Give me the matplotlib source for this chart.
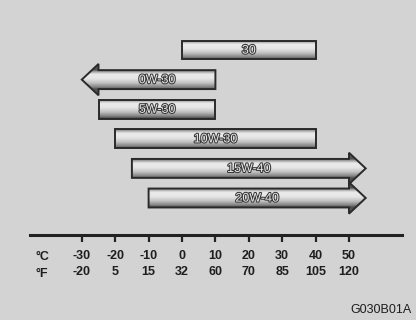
import numpy as np
import matplotlib
matplotlib.use("Agg")
import matplotlib.pyplot as plt
from matplotlib.patches import Polygon
import matplotlib.patheffects as pe

plt.rcParams['font.family'] = ['Liberation Sans', 'DejaVu Sans']

# oil grades and their temperature ranges (degC)
grades = ['30', '0W-30', '5W-30', '10W-30', '15W-40', '20W-40']
low = [0, -30, -25, -20, -15, -10]
high = [40, 10, 10, 40, 55, 55]
open_end = [None, 'left', None, None, 'right', 'right']

celsius = [-30, -20, -10, 0, 10, 20, 30, 40, 50]
fahrenheit = ['-20', '5', '15', '32', '60', '70', '85', '105', '120']

bg = '#d3d3d3'
fig = plt.figure(figsize=(4.16, 3.2), dpi=100, facecolor=bg)
ax = fig.add_axes([30 / 416, 1 - 235 / 320, 372 / 416, 235 / 320])
ax.set_facecolor('none')

body = 0.32   # half height of a bar
head = 0.53   # half height of an arrow head
head_len = 5

# vertical shading of the tubes
def shade(t):
    return np.interp(t, [-1.7, -1.0, -0.85, -0.55, -0.1, 0.35, 0.8, 1.0, 1.7],
                     [0.45, 0.3, 0.6, 0.92, 0.9, 0.76, 0.5, 0.3, 0.38])

for i, (name, lo, hi, kind) in enumerate(zip(grades, low, high, open_end)):
    y = i
    if kind == 'left':
        b = lo + head_len
        pts = [(lo, y), (b, y - head), (b, y - body), (hi, y - body),
               (hi, y + body), (b, y + body), (b, y + head)]
        xm = (b + hi) / 2
    elif kind == 'right':
        b = hi - head_len
        pts = [(lo, y - body), (b, y - body), (b, y - head), (hi, y),
               (b, y + head), (b, y + body), (lo, y + body)]
        xm = (lo + hi) / 2
    else:
        pts = [(lo, y - body), (hi, y - body), (hi, y + body), (lo, y + body)]
        xm = (lo + hi) / 2
    poly = Polygon(pts, closed=True, facecolor='none', edgecolor='#2a2a2a',
                   linewidth=1.4, zorder=3)
    ax.add_patch(poly)
    tt = np.linspace(-1.7, 1.7, 120)
    img = shade(tt)[:, None]
    im = ax.imshow(img, cmap='gray', vmin=0, vmax=1, aspect='auto',
                   extent=[lo, hi, y + 1.7 * body, y - 1.7 * body],
                   interpolation='bilinear', zorder=2)
    im.set_clip_path(poly)
    ax.text(xm, y + 0.02, name, ha='center', va='center',
            fontsize=9, color='#e6e6e6', zorder=4,
            family=['Liberation Sans Narrow', 'Liberation Sans'],
            path_effects=[pe.withStroke(linewidth=1.5, foreground='#383838')])

ax.set_xlim((30 - 182) / 3.34, (402 - 182) / 3.34)
ax.set_ylim(6.25, -1.69)

for s in ['top', 'left', 'right']:
    ax.spines[s].set_visible(False)
ax.spines['bottom'].set_linewidth(2.2)
ax.spines['bottom'].set_color('#222222')
ax.set_yticks([])
ax.set_xticks(celsius)
ax.set_xticklabels([f'{c}\n{f}' for c, f in zip(celsius, fahrenheit)],
                   fontsize=9, fontweight='bold', color='#1e1e1e', linespacing=1.45)
ax.tick_params(axis='x', direction='out', length=5, width=1.6,
               color='#222222', pad=6)

fig.text(36 / 416, 1 - 257 / 320, '°C', fontsize=9, fontweight='bold',
         color='#1e1e1e', va='center')
fig.text(36 / 416, 1 - 274 / 320, '°F', fontsize=9, fontweight='bold',
         color='#1e1e1e', va='center')
fig.text(412 / 416, 1 - 310 / 320, 'G030B01A', fontsize=9, color='#1e1e1e',
         ha='right', va='center')

fig.savefig('out.png', dpi=100, facecolor=bg)
